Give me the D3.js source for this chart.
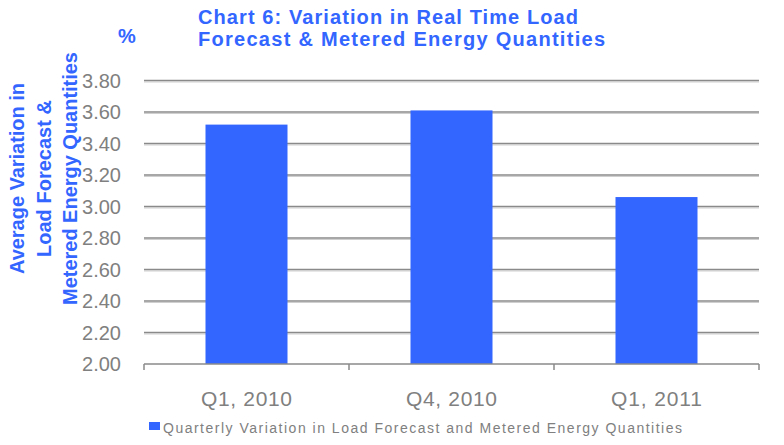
<!DOCTYPE html>
<html lang="en">
<head>
<meta charset="utf-8" />
<script src="https://cdn.jsdelivr.net/npm/d3@7"></script>
<style>
  body { margin: 0; background: #fff; }
  text { font-family: Arial, 'Liberation Sans', sans-serif; }
</style>
</head>
<body>
<div id="chart"></div>
<script>
var quarters = ["Q1, 2010", "Q4, 2010", "Q1, 2011"];
var variation = [3.52, 3.61, 3.06];
var yTicks = [2.00, 2.20, 2.40, 2.60, 2.80, 3.00, 3.20, 3.40, 3.60, 3.80];
var titleLines = ["Chart 6: Variation in Real Time Load", "Forecast & Metered Energy Quantities"];
var yTitleLines = ["Average Variation in", "Load Forecast &", "Metered Energy Quantities"];
var seriesName = "Quarterly Variation in Load Forecast and Metered Energy Quantities";

var width = 784, height = 445;
var plotLeft = 144, plotRight = 759, plotTop = 80.5, plotBottom = 364;
var blue = "#3366ff", grey = "#808080";

var svg = d3.select("#chart").append("svg")
  .attr("width", width)
  .attr("height", height);

var x = d3.scaleBand()
  .domain(quarters)
  .range([plotLeft, plotRight])
  .paddingInner(0.6)
  .paddingOuter(0.3);

var y = d3.scaleLinear()
  .domain([2.0, 3.8])
  .range([plotBottom, plotTop]);

// gridlines (darker line with a light shadow underneath)
svg.selectAll(".grid2")
  .data(yTicks.slice(1))
  .enter().append("line")
  .attr("x1", plotLeft).attr("x2", plotRight)
  .attr("y1", function(d) { return y(d) + 1.5; })
  .attr("y2", function(d) { return y(d) + 1.5; })
  .attr("stroke", "#cfcfcf").attr("stroke-width", 1);

svg.selectAll(".grid")
  .data(yTicks.slice(1))
  .enter().append("line")
  .attr("x1", plotLeft).attr("x2", plotRight)
  .attr("y1", function(d) { return y(d); })
  .attr("y2", function(d) { return y(d); })
  .attr("stroke", "#8a8a8a").attr("stroke-width", 1.5);

// bars
svg.selectAll("rect.bar")
  .data(variation)
  .enter().append("rect")
  .attr("class", "bar")
  .attr("x", function(d, i) { return x(quarters[i]); })
  .attr("width", x.bandwidth())
  .attr("y", function(d) { return y(d); })
  .attr("height", function(d) { return y(2.0) - y(d); })
  .attr("fill", blue);

// y tick labels
svg.selectAll(".ytick")
  .data(yTicks)
  .enter().append("text")
  .attr("x", 121)
  .attr("y", function(d) { return y(d); })
  .attr("dy", "0.35em")
  .attr("text-anchor", "end")
  .attr("font-size", 20)
  .attr("fill", grey)
  .text(function(d) { return d.toFixed(2); });

// x axis
var xAxis = svg.append("g")
  .attr("transform", "translate(0," + plotBottom + ")");
xAxis.append("line")
  .attr("x1", plotLeft).attr("x2", plotRight)
  .attr("stroke", "#8a8a8a").attr("stroke-width", 1.5);
var edges = [plotLeft].concat(quarters.map(function(q) { return x(q) + x.bandwidth() + x.step() * 0.3; }));
xAxis.selectAll(".tk")
  .data(edges)
  .enter().append("line")
  .attr("x1", function(d) { return d; }).attr("x2", function(d) { return d; })
  .attr("y1", 0).attr("y2", 6)
  .attr("stroke", "#8a8a8a").attr("stroke-width", 1.5);

svg.selectAll(".xlab")
  .data(quarters)
  .enter().append("text")
  .attr("x", function(d) { return x(d) + x.bandwidth() / 2; })
  .attr("y", 406)
  .attr("text-anchor", "middle")
  .attr("font-size", 21)
  .attr("fill", grey)
  .attr("textLength", 91)
  .attr("lengthAdjust", "spacing")
  .text(function(d) { return d; });

// title
var titleWidths = [380, 407];
svg.selectAll(".title")
  .data(titleLines)
  .enter().append("text")
  .attr("x", 198)
  .attr("y", function(d, i) { return 24 + i * 22; })
  .attr("font-size", 20)
  .attr("font-weight", "bold")
  .attr("fill", blue)
  .attr("textLength", function(d, i) { return titleWidths[i]; })
  .attr("lengthAdjust", "spacing")
  .text(function(d) { return d; });

svg.append("text")
  .attr("x", 118).attr("y", 43)
  .attr("font-size", 20)
  .attr("font-weight", "bold")
  .attr("fill", blue)
  .text("%");

// y axis title, three rotated lines
var yTitleWidths = [191, 157, 253];
svg.selectAll(".ytitle")
  .data(yTitleLines)
  .enter().append("text")
  .attr("transform", function(d, i) { return "translate(" + (24 + i * 26.5) + ",178.5) rotate(-90)"; })
  .attr("text-anchor", "middle")
  .attr("font-size", 20)
  .attr("font-weight", "bold")
  .attr("fill", blue)
  .attr("textLength", function(d, i) { return yTitleWidths[i]; })
  .attr("lengthAdjust", "spacing")
  .text(function(d) { return d; });

// legend
svg.append("rect")
  .attr("x", 149).attr("y", 422)
  .attr("width", 11).attr("height", 8)
  .attr("fill", blue);
svg.append("text")
  .attr("x", 163).attr("y", 433)
  .attr("font-size", 14)
  .attr("fill", grey)
  .attr("textLength", 519)
  .attr("lengthAdjust", "spacing")
  .text(seriesName);
</script>
</body>
</html>
